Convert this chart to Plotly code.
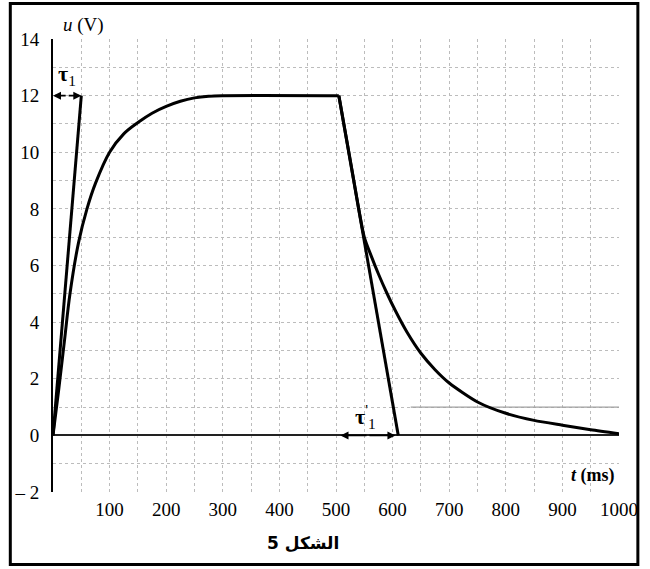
import plotly.graph_objects as go

# ---- data ----
charge_t = [0, 10, 20, 30, 45, 60, 75, 100, 125, 150, 175, 200, 225, 250, 275, 300, 505]
charge_u = [0, 1.6, 3.3, 5.0, 6.8, 8.0, 8.9, 10.0, 10.65, 11.05, 11.38, 11.62, 11.8, 11.92, 11.98, 12.0, 12.0]
discharge_t = [505, 528, 550, 562, 575, 590, 605, 625, 650, 675, 700, 750, 800, 850, 900, 950, 1000]
discharge_u = [12, 9.4, 7.0, 6.35, 5.7, 5.02, 4.4, 3.66, 2.9, 2.32, 1.85, 1.18, 0.78, 0.53, 0.36, 0.2, 0.06]
tangent1_t = [0, 50]
tangent1_u = [0, 12]
tangent2_t = [505, 610]
tangent2_u = [12, 0]
tau1_t = [0, 50]
tau1_u = 12
tau2_t = [508, 605]
tau2_u = 0
faint_t = [632, 1000]
faint_u = [1, 1]
x_ticks = [100, 200, 300, 400, 500, 600, 700, 800, 900, 1000]
y_ticks = [-2, 0, 2, 4, 6, 8, 10, 12, 14]
y_labels = ["– 2", "0", "2", "4", "6", "8", "10", "12", "14"]

SERIF = "Liberation Serif"

fig = go.Figure()
fig.add_trace(go.Scatter(x=faint_t, y=faint_u, mode="lines",
                         line=dict(color="#a0a0a0", width=1.2), hoverinfo="skip"))
fig.add_trace(go.Scatter(x=charge_t, y=charge_u, mode="lines",
                         line=dict(color="black", width=3, shape="spline", smoothing=1.0)))
fig.add_trace(go.Scatter(x=discharge_t, y=discharge_u, mode="lines",
                         line=dict(color="black", width=3, shape="spline", smoothing=0.7)))
fig.add_trace(go.Scatter(x=tangent1_t, y=tangent1_u, mode="lines", line=dict(color="black", width=3)))
fig.add_trace(go.Scatter(x=tangent2_t, y=tangent2_u, mode="lines", line=dict(color="black", width=3)))

anns = []
def dbl_arrow(t0, t1, u):
    mid = (t0 + t1) / 2
    for end in (t0, t1):
        anns.append(dict(x=end, y=u, ax=mid, ay=u, xref="x", yref="y", axref="x", ayref="y",
                         text="", showarrow=True, arrowhead=2, arrowsize=1, arrowwidth=1.6,
                         arrowcolor="black"))
dbl_arrow(tau1_t[0], tau1_t[1], tau1_u)
dbl_arrow(tau2_t[0], tau2_t[1], tau2_u)

anns += [
    dict(x=84, y=25, text="<i>u</i> (V)", showarrow=False,
         font=dict(family=SERIF, size=19, color="black")),
    dict(x=597, y=475, text="<b><i>t</i> (ms)</b>", showarrow=False,
         font=dict(family=SERIF, size=18, color="black")),
    dict(x=67, y=75, text="<b>τ</b><sub>1</sub>", showarrow=False,
         font=dict(family=SERIF, size=22, color="black")),
    dict(x=368, y=416, text="<b>τ</b><sup>'</sup><sub>1</sub>", showarrow=False,
         font=dict(family=SERIF, size=22, color="black")),
    dict(x=305, y=543, text="<b>الشكل 5</b>", showarrow=False,
         font=dict(family="DejaVu Sans", size=17, color="black")),
]

# convert pixel-positioned text annotations to paper coordinates
L, R, T, B = 53, 623, 39, 491.6
for a in anns:
    if a.get("showarrow") is False:
        px, py = a["x"], a["y"]
        a["x"] = (px - L) / (R - L)
        a["y"] = (B - py) / (B - T)
        a["xref"] = "paper"
        a["yref"] = "paper"
        a["xanchor"] = "center"
        a["yanchor"] = "middle"

frame = dict(type="rect", xref="paper", yref="paper",
             x0=(10 - L) / (R - L), x1=(642 - L) / (R - L),
             y0=(B - 564) / (B - T), y1=(B - 3.5) / (B - T),
             line=dict(color="black", width=3), fillcolor="rgba(0,0,0,0)", layer="above")

GRID = "#bcbcbc"
fig.update_layout(
    width=650, height=569,
    margin=dict(l=L, r=650 - R, t=T, b=569 - B),
    paper_bgcolor="white", plot_bgcolor="white",
    showlegend=False,
    annotations=anns,
    shapes=[frame],
    xaxis=dict(range=[0, 1000], tickvals=x_ticks, ticks="", showline=False,
               showgrid=True, gridcolor=GRID, gridwidth=1, griddash="dot",
               minor=dict(dtick=50, tick0=0, showgrid=True, gridcolor=GRID, griddash="dot", gridwidth=1),
               zeroline=False, ticklabelstandoff=4,
               tickfont=dict(family=SERIF, size=19, color="black")),
    yaxis=dict(range=[-2, 14], tickvals=y_ticks, ticktext=y_labels, ticks="",
               showline=True, linecolor="black", linewidth=2,
               showgrid=True, gridcolor=GRID, gridwidth=1, griddash="dot",
               minor=dict(dtick=1, tick0=0, showgrid=True, gridcolor=GRID, griddash="dot", gridwidth=1),
               zeroline=True, zerolinecolor="#222222", zerolinewidth=2,
               ticklabelstandoff=8,
               tickfont=dict(family=SERIF, size=19, color="black")),
)

fig.write_html("out.html", config={"displayModeBar": False},
               post_script="document.body.style.margin='0px';")
